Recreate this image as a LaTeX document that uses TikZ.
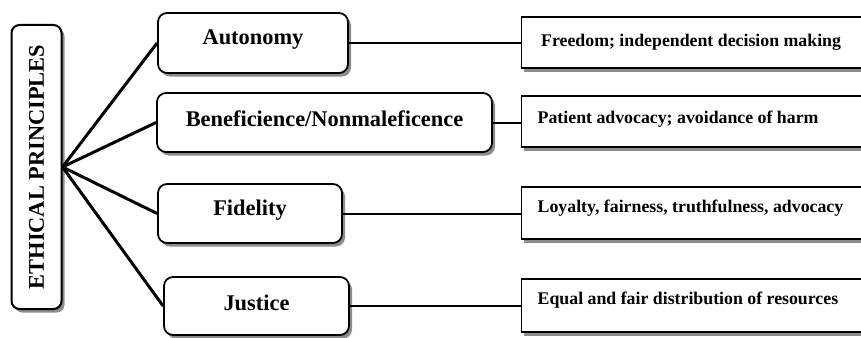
\documentclass[tikz,border=0pt]{standalone}
\usepackage{fontspec}
\setmainfont{Liberation Serif}
\usetikzlibrary{shadows}
\begin{document}
\begin{tikzpicture}[x=1pt,y=-1pt,
  shadowed/.style={drop shadow={shadow xshift=3pt,shadow yshift=-3.5pt,fill=black!45,opacity=1}},
  leftbox/.style={draw,line width=2pt,rounded corners=8pt,fill=white,shadowed,minimum width=50pt,minimum height=284pt,inner sep=0pt},
  midbox/.style={draw,line width=1.8pt,rounded corners=9pt,fill=white,shadowed,inner sep=0pt},
  rbox/.style={draw,line width=1.8pt,fill=white,shadowed,inner sep=0pt,minimum width=360pt,minimum height=51pt},
  midtext/.style={font=\fontsize{22.4}{26}\selectfont\bfseries,inner sep=0pt},
  rtext/.style={font=\fontsize{17.8}{21}\selectfont\bfseries,inner sep=0pt,anchor=west},
  hub/.style={line width=3pt},
  link/.style={line width=2pt}]
\useasboundingbox (0,0) rectangle (861,337);
\clip (0,0) rectangle (861,337);
% left box
\node[leftbox] (ep) at (36.5,167) {};
\node[midtext,rotate=90] (eptext) at (ep.center) {ETHICAL PRINCIPLES};
% middle boxes
\node[midbox,minimum width=190pt,minimum height=60pt] (aut) at (253,43) {};
\node[midtext] (auttext) at (253,39.5) {Autonomy};
\node[midbox,minimum width=335pt,minimum height=59pt] (ben) at (324.5,122.5) {};
\node[midtext] (bentext) at (324.5,118.5) {Beneficience/Nonmaleficence};
\node[midbox,minimum width=184pt,minimum height=59pt] (fid) at (250,213.5) {};
\node[midtext] (fidtext) at (250,210) {Fidelity};
\node[midbox,minimum width=185pt,minimum height=58pt] (jus) at (256.5,306) {};
\node[midtext] (justext) at (256.5,302.5) {Justice};
% right boxes
\node[rbox,anchor=west] (r1) at (520.5,42.5) {};
\node[rtext] (r1t) at (541,42) {Freedom; independent decision making};
\node[rbox,anchor=west] (r2) at (520.5,121.5) {};
\node[rtext] (r2t) at (537.5,119.5) {Patient advocacy; avoidance of harm};
\node[rbox,anchor=west,minimum height=52pt] (r3) at (520.5,213) {};
\node[rtext] (r3t) at (537.5,208.5) {Loyalty, fairness, truthfulness, advocacy};
\node[rbox,anchor=west,minimum height=53pt] (r4) at (520.5,305.5) {};
\node[rtext] (r4t) at (537.5,300.5) {Equal and fair distribution of resources};
% hub connectors
\coordinate (h) at (ep.east);
\draw[hub] (h) -- (aut.west);
\draw[hub] (h) -- (ben.west);
\draw[hub] (h) -- (fid.west);
\draw[hub] (h) -- (jus.west);
% right connectors
\draw[link] (aut.east) -- (aut.east -| r1.west);
\draw[link] (ben.east) -- (ben.east -| r2.west);
\draw[link] (fid.east) -- (fid.east -| r3.west);
\draw[link] (jus.east) -- (jus.east -| r4.west);
\end{tikzpicture}
\end{document}
